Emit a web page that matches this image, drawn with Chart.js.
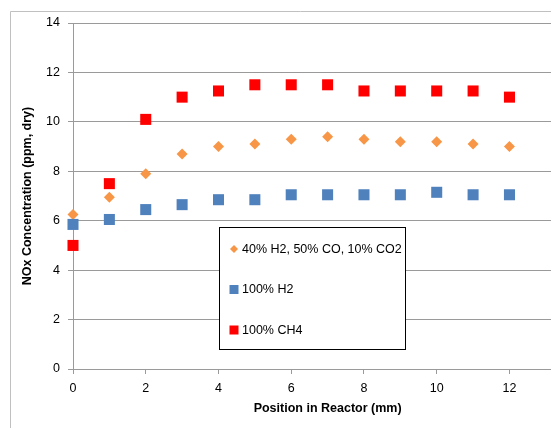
<!DOCTYPE html>
<html>
<head>
<meta charset="utf-8">
<script src="https://cdn.jsdelivr.net/npm/chart.js@4/dist/chart.umd.min.js"></script>
<style>
  html, body { margin: 0; padding: 0; overflow: hidden; background: #fff; }
  #wrap { position: relative; width: 590px; height: 428px; }
</style>
</head>
<body>
<div id="wrap"><canvas id="c" width="590" height="428"></canvas></div>
<script>
// ---- data ----
const positions = [0, 1, 2, 3, 4, 5, 6, 7, 8, 9, 10, 11, 12];
const seriesNames = ['40% H2, 50% CO, 10% CO2', '100% H2', '100% CH4'];
const mixtureValues = [6.25, 6.95, 7.9, 8.7, 9.0, 9.1, 9.3, 9.4, 9.3, 9.2, 9.2, 9.1, 9.0];
const h2Values = [5.85, 6.05, 6.45, 6.65, 6.85, 6.85, 7.05, 7.05, 7.05, 7.05, 7.15, 7.05, 7.05];
const ch4Values = [5.0, 7.5, 10.1, 11.0, 11.25, 11.5, 11.5, 11.5, 11.25, 11.25, 11.25, 11.25, 11.0];
const yTicks = [0, 2, 4, 6, 8, 10, 12, 14];
const xTicks = [0, 2, 4, 6, 8, 10, 12];
const xTitle = 'Position in Reactor (mm)';
const yTitle = 'NOx Concentration (ppm, dry)';

const FONT = '"Liberation Sans", Arial, sans-serif';
const colors = ['#F79646', '#4F81BD', '#FF0000'];
const shapes = ['rectRot', 'rect', 'rect'];
const radii = [5.5, 7.8, 7.8];

function toPoints(vals) { return positions.map((x, i) => ({ x: x, y: vals[i] })); }
const allValues = [mixtureValues, h2Values, ch4Values];

const datasets = allValues.map((vals, i) => ({
  label: seriesNames[i],
  data: toPoints(vals),
  showLine: false,
  clip: false,
  pointStyle: shapes[i],
  pointRadius: radii[i],
  pointHoverRadius: radii[i],
  pointBackgroundColor: colors[i],
  pointBorderColor: colors[i],
  pointBorderWidth: 0,
  backgroundColor: colors[i],
  borderColor: colors[i],
  order: 2 - i
}));

const frame = {
  id: 'frame',
  beforeDraw(chart) {
    const ctx = chart.ctx;
    ctx.save();
    ctx.fillStyle = '#fff';
    ctx.fillRect(0, 0, chart.width, chart.height);
    ctx.strokeStyle = '#c0c0c0';
    ctx.lineWidth = 1;
    ctx.beginPath();
    ctx.moveTo(10.5, chart.height + 5);
    ctx.lineTo(10.5, 11.5);
    ctx.lineTo(chart.width + 5, 11.5);
    ctx.stroke();
    ctx.restore();
  }
};

const boxLegend = {
  id: 'boxLegend',
  afterDatasetsDraw(chart) {
    const ctx = chart.ctx;
    const L = 219.5, T = 227.5, W = 186, H = 122;
    ctx.save();
    ctx.fillStyle = '#fff';
    ctx.fillRect(L, T, W, H);
    ctx.strokeStyle = '#000';
    ctx.lineWidth = 1;
    ctx.strokeRect(L, T, W, H);
    const rowsY = [249, 289.5, 330];
    ctx.font = '12.5px ' + FONT;
    ctx.textBaseline = 'middle';
    ctx.textAlign = 'left';
    chart.data.datasets.forEach((ds, i) => {
      const cx = 234, cy = rowsY[i];
      ctx.fillStyle = ds.pointBackgroundColor;
      ctx.beginPath();
      if (ds.pointStyle === 'rectRot') {
        const r = 4;
        ctx.moveTo(cx - r, cy); ctx.lineTo(cx, cy - r); ctx.lineTo(cx + r, cy); ctx.lineTo(cx, cy + r);
        ctx.closePath();
        ctx.fill();
      } else {
        ctx.fillRect(cx - 4.5, cy - 4.5, 9, 9);
      }
      ctx.fillStyle = '#000';
      ctx.fillText(ds.label, 242, cy + 0.5);
    });
    ctx.restore();
  }
};

new Chart(document.getElementById('c'), {
  type: 'scatter',
  data: { datasets: datasets },
  plugins: [frame, boxLegend],
  options: {
    responsive: false,
    animation: false,
    events: [],
    layout: { padding: { left: 0, top: 23, right: 6, bottom: 0 } },
    plugins: { legend: { display: false }, tooltip: { enabled: false } },
    scales: {
      x: {
        type: 'linear',
        min: 0, max: 14,
        afterBuildTicks(scale) { scale.ticks = xTicks.map(v => ({ value: v })); },
        afterFit(scale) { scale.height = 59; },
        ticks: { color: '#000', font: { family: FONT, size: 12.5 }, padding: 7, maxRotation: 0 },
        grid: { drawOnChartArea: false, drawTicks: true, tickLength: 5, color: '#9a9a9a', lineWidth: 1 },
        border: { display: true, color: '#9a9a9a', width: 1 },
        title: { display: true, text: xTitle, color: '#000', font: { family: FONT, size: 12.5, weight: 'bold' }, padding: { top: 0, bottom: 11.5 } }
      },
      y: {
        type: 'linear',
        min: 0, max: 14,
        afterBuildTicks(scale) { scale.ticks = yTicks.map(v => ({ value: v })); },
        afterFit(scale) { scale.width = 73; },
        ticks: { color: '#000', font: { family: FONT, size: 12.5 }, padding: 8 },
        grid: { drawOnChartArea: true, drawTicks: true, tickLength: 5, color: '#9a9a9a', lineWidth: 1 },
        border: { display: true, color: '#9a9a9a', width: 1 },
        title: { display: true, text: yTitle, color: '#000', font: { family: FONT, size: 12.5, weight: 'bold' }, padding: { top: 20.5, bottom: 0 } }
      }
    }
  }
});
</script>
</body>
</html>
